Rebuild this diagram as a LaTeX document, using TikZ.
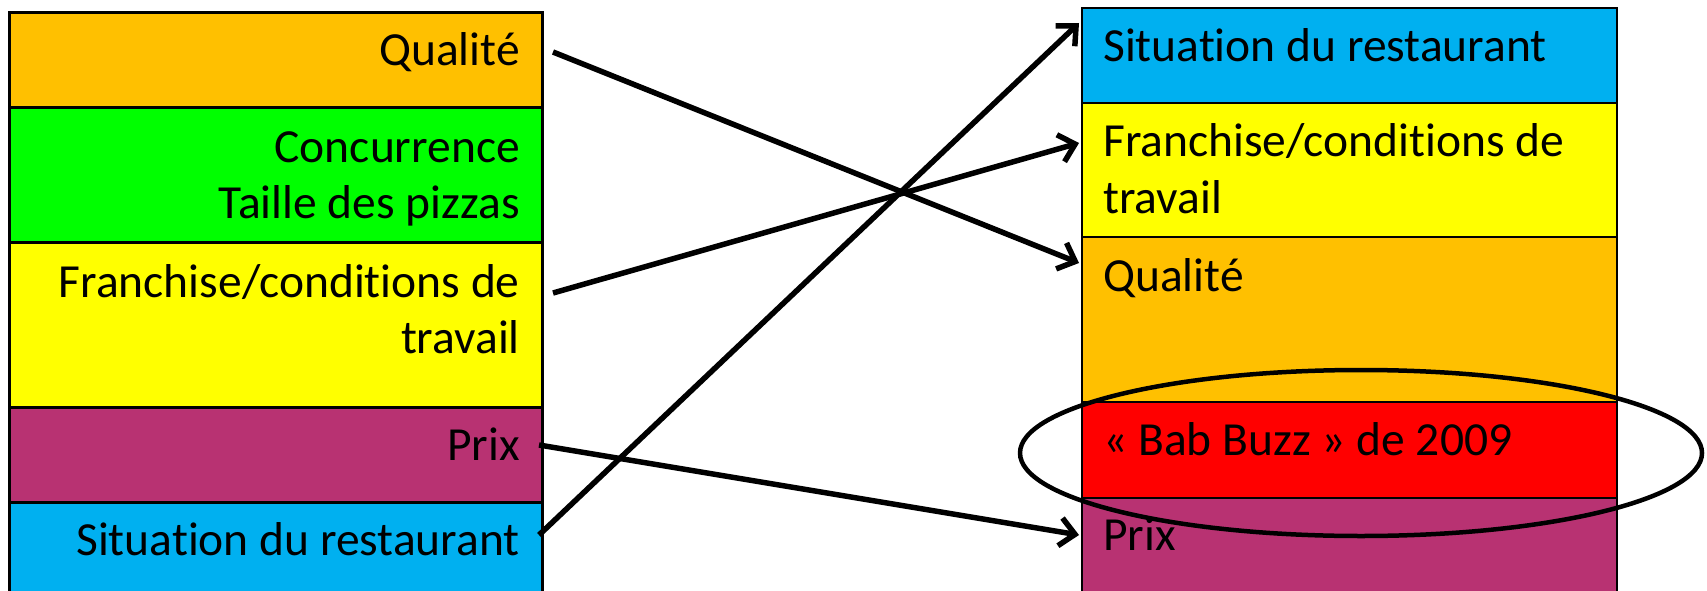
\documentclass[tikz,border=0pt]{standalone}
\usepackage{fontspec}
\setmainfont[Ligatures=NoCommon]{Carlito}
\usetikzlibrary{arrows.meta,shapes.geometric}
\definecolor{cOrange}{RGB}{255,192,0}
\definecolor{cGreen}{RGB}{0,255,0}
\definecolor{cYellow}{RGB}{255,255,0}
\definecolor{cPurple}{RGB}{184,50,114}
\definecolor{cBlue}{RGB}{0,176,240}
\definecolor{cRed}{RGB}{255,0,0}
\begin{document}
\begin{tikzpicture}[x=1pt,y=-1pt,
  band/.style={draw=black,line width=3pt,inner sep=0pt,anchor=north west},
  rband/.style={band,line width=2.2pt},
  lbl/.style={inner sep=0pt,font=\fontsize{47.5}{57}\selectfont},
  lft/.style={lbl,anchor=base east},
  rgt/.style={lbl,anchor=base west},
  arr/.style={line width=5.5pt,-{Straight Barb[length=15pt,width=28pt]}}]
\useasboundingbox (0,0) rectangle (1707,591);
\clip (0,0) rectangle (1707,591);
% left column
\node[band,fill=cOrange,minimum width=533pt,minimum height=95pt] (L1) at (8,11) {};
\node[band,fill=cGreen,minimum width=533pt,minimum height=135pt] (L2) at (8,106) {};
\node[band,fill=cYellow,minimum width=533pt,minimum height=165pt] (L3) at (8,241) {};
\node[band,fill=cPurple,minimum width=533pt,minimum height=95pt] (L4) at (8,406) {};
\node[band,fill=cBlue,minimum width=533pt,minimum height=110pt] (L5) at (8,501) {};
% right column
\node[rband,fill=cBlue,minimum width=535pt,minimum height=95pt] (R1) at (1081,7) {};
\node[rband,fill=cYellow,minimum width=535pt,minimum height=134pt] (R2) at (1081,102) {};
\node[rband,fill=cOrange,minimum width=535pt,minimum height=165pt] (R3) at (1081,236) {};
\node[rband,fill=cRed,minimum width=535pt,minimum height=96pt] (R4) at (1081,401) {};
\node[rband,fill=cPurple,minimum width=535pt,minimum height=110pt] (R5) at (1081,497) {};
% left texts
\node[lft] (tl1) at (520,66) {Qualité};
\node[lft] (tl2a) at (520,162) {Concurrence};
\node[lft] (tl2b) at (520,218) {Taille des pizzas};
\node[lft] (tl3a) at (520,297) {Franchise/conditions de};
\node[lft] (tl3b) at (520,353) {travail};
\node[lft] (tl4) at (520,460) {Prix};
\node[lft] (tl5) at (520,555) {Situation du restaurant};
% right texts
\node[rgt] (tr1) at (1103,62) {Situation du restaurant};
\node[rgt] (tr2a) at (1103,156) {Franchise/conditions de};
\node[rgt] (tr2b) at (1103,213) {travail};
\node[rgt] (tr3) at (1103,291) {Qualité};
\node[rgt] (tr4) at (1103,455) {« Bab Buzz » de 2009};
\node[rgt] (tr5) at (1103,550) {Prix};
% oval
\node[draw=black,line width=4.5pt,ellipse,minimum width=682pt,minimum height=166pt,inner sep=0pt] (oval) at (1361,453) {};
% connector end points
\coordinate (a1) at (553,52);
\coordinate (b1) at (1079,263);
\coordinate (a2) at (553,293);
\coordinate (b2) at (1079,143);
\coordinate (a3) at (539,445);
\coordinate (b3) at (1079,535);
\coordinate (a4) at (539,535);
\coordinate (b4) at (1079,23);
\draw[arr] (a1) -- (b1);
\draw[arr] (a2) -- (b2);
\draw[arr] (a3) -- (b3);
\draw[arr] (a4) -- (b4);
\end{tikzpicture}
\end{document}
